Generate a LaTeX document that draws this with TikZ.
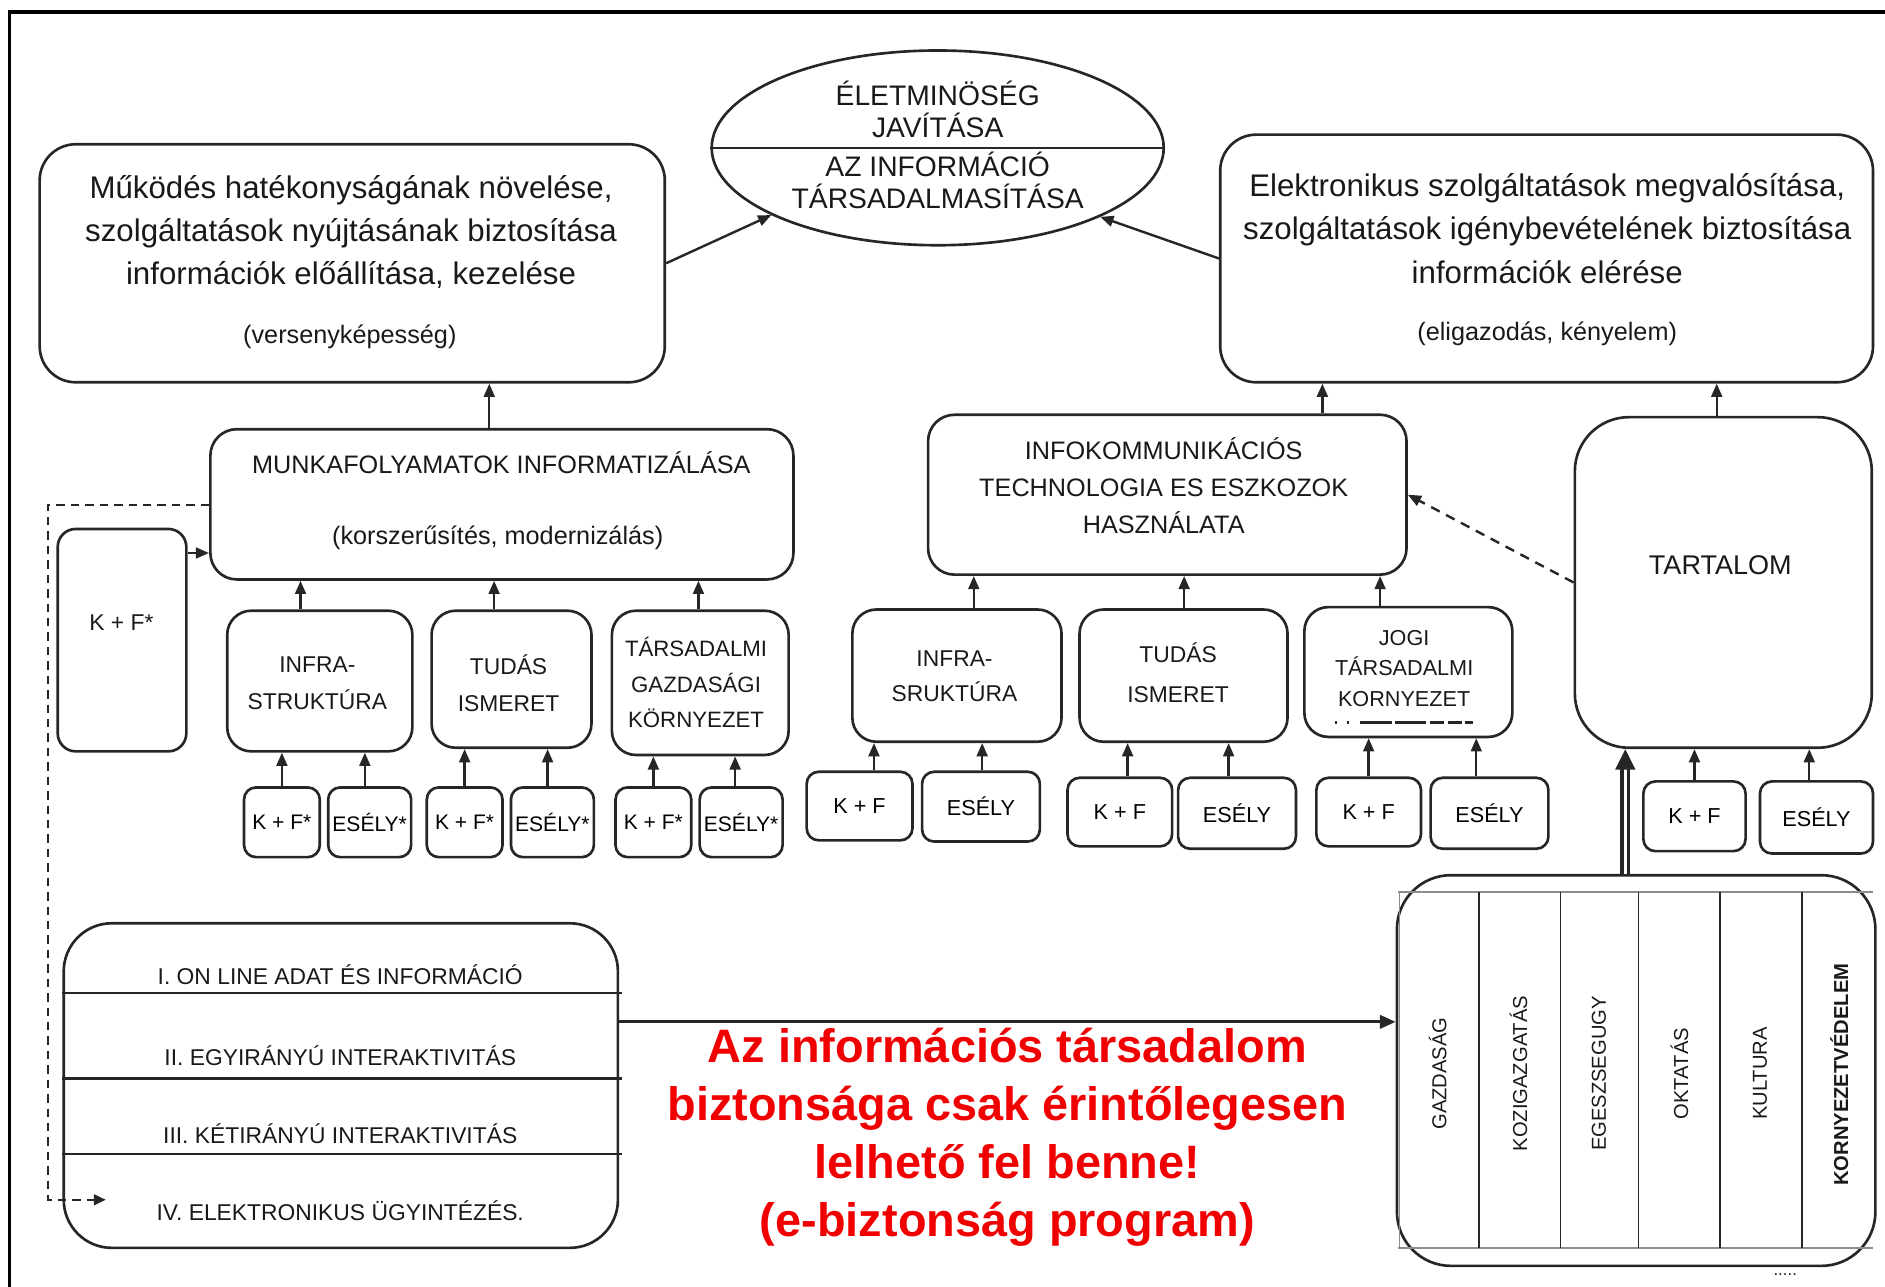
\documentclass[tikz,border=0pt]{standalone}
\usepackage{fontspec}
\setmainfont{Liberation Sans}
\usetikzlibrary{arrows.meta,shapes.geometric}
\definecolor{ln}{gray}{0.15}
\definecolor{redtxt}{RGB}{240,0,0}
\tikzset{
  bx/.style={draw=ln, line width=2.2pt, rounded corners=#1, inner sep=0pt},
  bx/.default=20pt,
  lbl/.style={inner sep=0pt, align=center, text=black!90},
  arr/.style={draw=ln, line width=2pt, -{Triangle[length=11pt,width=9pt]}},
  darr/.style={draw=ln, line width=2pt, dashed, dash pattern=on 8pt off 6pt, -{Triangle[length=11pt,width=9pt]}},
  fA/.style={font=\fontsize{26}{36}\selectfont},
  fB/.style={font=\fontsize{21}{31}\selectfont},
  fC/.style={font=\fontsize{19}{31}\selectfont},
  fD/.style={font=\fontsize{17.5}{20}\selectfont},
  fE/.style={font=\fontsize{18}{20}\selectfont},
  fR/.style={font=\fontsize{16.8}{20}\selectfont},
}
\begin{document}
\begin{tikzpicture}[x=1pt,y=-1pt]
\useasboundingbox (0,0) rectangle (1568,1070);
% frame
\draw[line width=3pt, black] (8,1072) -- (8,10) -- (1570,10);

% ---------- top row ----------
\node[bx=30pt, ellipse, minimum width=376pt, minimum height=162pt] (ell) at (780,123) {};
\draw[draw=ln, line width=2.2pt] (ell.west) -- (ell.east);
\node[lbl, font=\fontsize{23.5}{26}\selectfont] (ellA) at (780,91) {ÉLETMINÖSÉG\\JAVÍTÁSA};
\node[lbl, font=\fontsize{23.5}{26}\selectfont] (ellB) at (780,150) {AZ INFORMÁCIÓ\\TÁRSADALMASÍTÁSA};

\node[bx=30pt, minimum width=520pt, minimum height=198pt] (topL) at (293,219) {};
\node[lbl, fA] (topLt) at (292,193) {Működés hatékonyságának növelése,\\szolgáltatások nyújtásának biztosítása\\információk előállítása, kezelése};
\node[lbl, font=\fontsize{21}{24}\selectfont] (topLs) at (291,280) {(versenyképesség)};

\node[bx=30pt, minimum width=543pt, minimum height=206pt] (topR) at (1286.5,215) {};
\node[lbl, fA] (topRt) at (1287,190) {Elektronikus szolgáltatások megvalósítása,\\szolgáltatások igénybevételének biztosítása\\információk elérése};
\node[lbl, font=\fontsize{21}{24}\selectfont] (topRs) at (1287,278) {(eligazodás, kényelem)};

\draw[arr] (topL.east) -- (ell.202);
\draw[arr] (topR.west) -- (ell.-23);

% ---------- left branch ----------
\node[bx=22pt, minimum width=485pt, minimum height=125pt] (munka) at (417.5,419.5) {};
\node[lbl, fB] (munkaA) at (417,385) {MUNKAFOLYAMATOK INFORMATIZÁLÁSA};
\node[lbl, fB] (munkaB) at (414,447) {(korszerűsítés, modernizálás)};
\draw[arr] ([xshift=-10.5pt]munka.north) -- ([xshift=-10.5pt]munka.north |- topL.south);

\node[bx=15pt, minimum width=107pt, minimum height=185pt] (kfbig) at (101.5,532.5) {};
\node[lbl, fC] (kfbigt) at (101,518) {K + F*};
\coordinate (kfy) at (0,460);
\draw[arr] (kfbig.east |- kfy) -- (munka.west |- kfy);

\node[bx=20pt, minimum width=154pt, minimum height=117pt] (infraL) at (266,566.5) {};
\node[lbl, fC] (infraLt) at (264,568.5) {INFRA-\\STRUKTÚRA};
\node[bx=20pt, minimum width=133pt, minimum height=114pt] (tudasL) at (425.5,565) {};
\node[lbl, fC] (tudasLt) at (423,568.5) {TUDÁS\\ISMERET};
\node[bx=20pt, minimum width=147pt, minimum height=120pt] (tarsL) at (582.5,568) {};
\node[lbl, font=\fontsize{18.5}{29.5}\selectfont] (tarsLt) at (579,568) {TÁRSADALMI\\GAZDASÁGI\\KÖRNYEZET};

\draw[arr] ([xshift=-16pt]infraL.north) -- ([xshift=-16pt]infraL.north |- munka.south);
\draw[arr] ([xshift=-14.5pt]tudasL.north) -- ([xshift=-14.5pt]tudasL.north |- munka.south);
\draw[arr] ([xshift=-1.5pt]tarsL.north) -- ([xshift=-1.5pt]tarsL.north |- munka.south);

\node[bx=10pt, minimum width=63pt, minimum height=58pt, fD] (s1) at (234.5,684) {K + F*};
\node[bx=10pt, minimum width=69pt, minimum height=58pt, fD] (s2) at (307.5,684) {ESÉLY*};
\node[bx=10pt, minimum width=63pt, minimum height=58pt, fD] (s3) at (386.5,684) {K + F*};
\node[bx=10pt, minimum width=69pt, minimum height=58pt, fD] (s4) at (459.5,684) {ESÉLY*};
\node[bx=10pt, minimum width=63pt, minimum height=58pt, fD] (s5) at (543.5,684) {K + F*};
\node[bx=10pt, minimum width=69pt, minimum height=58pt, fD] (s6) at (616.5,684) {ESÉLY*};
\draw[arr] (s1.north) -- (s1.north |- infraL.south);
\draw[arr] ([xshift=-4pt]s2.north) -- ([xshift=-4pt]s2.north |- infraL.south);
\draw[arr] (s3.north) -- (s3.north |- tudasL.south);
\draw[arr] ([xshift=-4pt]s4.north) -- ([xshift=-4pt]s4.north |- tudasL.south);
\draw[arr] (s5.north) -- (s5.north |- tarsL.south);
\draw[arr] ([xshift=-5pt]s6.north) -- ([xshift=-5pt]s6.north |- tarsL.south);

% ---------- right branch ----------
\node[bx=22pt, minimum width=398pt, minimum height=133pt] (infok) at (971,411.5) {};
\node[lbl, font=\fontsize{21}{31}\selectfont] (infokt) at (968,404) {INFOKOMMUNIKÁCIÓS\\TECHNOLOGIA ES ESZKOZOK\\HASZNÁLATA};
\draw[arr] ([xshift=129pt]infok.north) -- ([xshift=129pt]infok.north |- topR.south);

\node[bx=45pt, minimum width=247pt, minimum height=275pt] (tart) at (1433.5,484.5) {};
\node[lbl, font=\fontsize{22.5}{26}\selectfont] (tartt) at (1431,470) {TARTALOM};
\draw[arr] ([xshift=-5.5pt]tart.north) -- ([xshift=-5.5pt]tart.north |- topR.south);
\draw[darr] (tart.west) -- (infok.east);

\node[bx=20pt, minimum width=174pt, minimum height=110pt] (infraR) at (796,562) {};
\node[lbl, font=\fontsize{19}{29}\selectfont] (infraRt) at (794,562.5) {INFRA-\\SRUKTÚRA};
\node[bx=20pt, minimum width=173pt, minimum height=110pt] (tudasR) at (984.5,562) {};
\node[lbl, font=\fontsize{19}{33}\selectfont] (tudasRt) at (980,559.5) {TUDÁS\\ISMERET};
\node[bx=20pt, minimum width=173pt, minimum height=108pt] (jogiR) at (1171.5,559) {};
\node[lbl, font=\fontsize{18}{25.5}\selectfont] (jogiRt) at (1168,556) {JOGI\\TÁRSADALMI\\KORNYEZET};
\draw[draw=ln, line width=2.5pt, dash pattern=on 2pt off 8pt on 2pt off 9pt on 26pt off 3pt on 26pt off 3pt on 12pt off 3pt on 12pt] ([xshift=-61pt,yshift=-42pt]jogiR.center) -- ([xshift=54pt,yshift=-42pt]jogiR.center);

\draw[arr] ([xshift=14pt]infraR.north) -- ([xshift=14pt]infraR.north |- infok.south);
\draw[arr] ([xshift=0.5pt]tudasR.north) -- ([xshift=0.5pt]tudasR.north |- infok.south);
\draw[arr] ([xshift=-23.5pt]jogiR.north) -- ([xshift=-23.5pt]jogiR.north |- infok.south);

\node[bx=10pt, minimum width=88pt, minimum height=57pt, fE] (r1) at (715,670.5) {K + F};
\node[bx=10pt, minimum width=98pt, minimum height=58pt, fE] (r2) at (816,671) {ESÉLY};
\node[bx=10pt, minimum width=87pt, minimum height=57pt, fE] (r3) at (931.5,675.5) {K + F};
\node[bx=10pt, minimum width=98pt, minimum height=59pt, fE] (r4) at (1029,676.5) {ESÉLY};
\node[bx=10pt, minimum width=87pt, minimum height=57pt, fE] (r5) at (1138.5,675.5) {K + F};
\node[bx=10pt, minimum width=98pt, minimum height=59pt, fE] (r6) at (1239,676.5) {ESÉLY};
\draw[arr] ([xshift=12pt]r1.north) -- ([xshift=12pt]r1.north |- infraR.south);
\draw[arr] ([xshift=1pt]r2.north) -- ([xshift=1pt]r2.north |- infraR.south);
\draw[arr] ([xshift=6.5pt]r3.north) -- ([xshift=6.5pt]r3.north |- tudasR.south);
\draw[arr] ([xshift=-7pt]r4.north) -- ([xshift=-7pt]r4.north |- tudasR.south);
\draw[arr] (r5.north) -- (r5.north |- jogiR.south);
\draw[arr] ([xshift=-11pt]r6.north) -- ([xshift=-11pt]r6.north |- jogiR.south);

\node[bx=10pt, minimum width=85pt, minimum height=58pt, fE] (t1) at (1409.5,679) {K + F};
\node[bx=10pt, minimum width=94pt, minimum height=60pt, fE] (t2) at (1511,680) {ESÉLY};
\draw[arr] (t1.north) -- (t1.north |- tart.south);
\draw[arr] ([xshift=-6pt]t2.north) -- ([xshift=-6pt]t2.north |- tart.south);

% ---------- sector box ----------
\node[bx=45pt, minimum width=398pt, minimum height=325pt] (sector) at (1361,890.5) {};
\draw[black!45, line width=1.5pt] (1163,742) -- (1558,742);
\draw[black!45, line width=1.5pt] (1163,1038) -- (1558,1038);
\draw[black!45, line width=1.2pt] (1164,742) -- (1164,1038);
\foreach \xx in {1230,1298,1363,1431,1499}{
  \draw[black!85, line width=1.5pt] (\xx,742) -- (\xx,1038);
}
\node[lbl, fR, rotate=90] (sec1) at (1196,893) {GAZDASÁG};
\node[lbl, fR, rotate=90] (sec2) at (1263,893) {KOZIGAZGATÁS};
\node[lbl, fR, rotate=90] (sec3) at (1330,893) {EGESZSEGUGY};
\node[lbl, fR, rotate=90] (sec4) at (1397,893) {OKTATÁS};
\node[lbl, fR, rotate=90] (sec5) at (1464,893) {KULTURA};
\node[lbl, fR, rotate=90, font=\fontsize{16.8}{20}\bfseries] (sec6) at (1530,894) {KORNYEZETVÉDELEM};
\node[lbl, font=\fontsize{14}{16}\selectfont] (dots) at (1485,1060) {.....};

\draw[draw=ln, line width=3pt, double=white, double distance=2.5pt, -{Triangle[length=17pt,width=16pt]}] ([xshift=-9pt]sector.north) -- ([xshift=-9pt]sector.north |- tart.south);

% ---------- levels box ----------
\node[bx=40pt, minimum width=461pt, minimum height=270pt] (levels) at (283.5,903) {};
\coordinate (lv1) at (0,826);
\coordinate (lv2) at (0,897);
\coordinate (lv3) at (0,960);
\draw[draw=ln, line width=2.2pt] (levels.west |- lv1) -- ([xshift=2pt]levels.east |- lv1);
\draw[draw=ln, line width=2.2pt] (levels.west |- lv2) -- ([xshift=2pt]levels.east |- lv2);
\draw[draw=ln, line width=2.2pt] (levels.west |- lv3) -- ([xshift=2pt]levels.east |- lv3);
\node[lbl, fC] (lvA) at (283,811) {I. ON LINE ADAT ÉS INFORMÁCIÓ};
\node[lbl, fC] (lvB) at (283,878) {II. EGYIRÁNYÚ INTERAKTIVITÁS};
\node[lbl, fC] (lvC) at (283,943) {III. KÉTIRÁNYÚ INTERAKTIVITÁS};
\node[lbl, fC] (lvD) at (283,1007) {IV. ELEKTRONIKUS ÜGYINTÉZÉS.};

\coordinate (ay) at (0,850);
\draw[draw=ln, line width=2.5pt, -{Triangle[length=13pt,width=11pt]}] (levels.east |- ay) -- (sector.west |- ay);

% dashed feedback
\coordinate (dA) at (40,420);
\coordinate (dB) at (40,998);
\coordinate (dC) at (88,998);
\draw[draw=ln, line width=1.8pt, dash pattern=on 7pt off 5pt, -{Triangle[length=10pt,width=9pt]}] (munka.west |- dA) -- (dA) -- (dB) -- (dC);

% red statement
\node[lbl, text=redtxt, font=\fontsize{39}{48.5}\bfseries] (stmt) at (838,946) {Az információs társadalom\\biztonsága csak érintőlegesen\\lelhető fel benne!\\(e-biztonság program)};
\end{tikzpicture}
\end{document}
